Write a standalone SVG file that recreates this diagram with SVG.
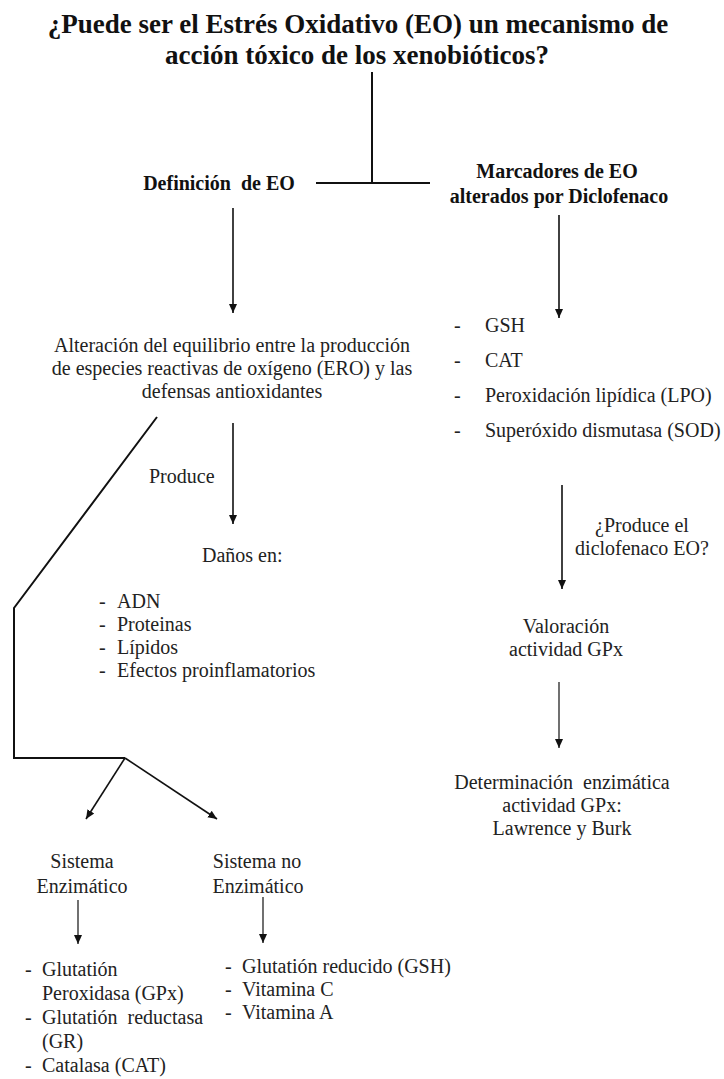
<svg xmlns="http://www.w3.org/2000/svg" width="724" height="1079" viewBox="0 0 724 1079">
<style>
.title{font-family:"Liberation Serif",serif;font-weight:bold;font-size:27px;fill:#111}
.h{font-family:"Liberation Serif",serif;font-weight:bold;font-size:20px;fill:#111}
.t{font-family:"Liberation Serif",serif;font-size:20px;fill:#222}
.c{text-anchor:middle}
.pre{white-space:pre}
.ln{stroke:#111;stroke-width:2;fill:none}
.ar{stroke:#111;stroke-width:1.6;fill:none;marker-end:url(#ah)}
</style>
<defs>
<marker id="ah" markerUnits="userSpaceOnUse" markerWidth="10" markerHeight="10" refX="9" refY="5" orient="auto">
<path d="M0,1 L9,5 L0,9 Z" fill="#111"/>
</marker>
</defs>
<rect width="724" height="1079" fill="#fff"/>
<g id="title">
<text class="title c" x="358" y="33">¿Puede ser el Estrés Oxidativo (EO) un mecanismo de</text>
<text class="title c" x="357" y="64">acción tóxico de los xenobióticos?</text>
</g>
<g id="definicion"><text class="h c pre" x="219" y="190">Definición  de EO</text></g>
<g id="marcadores">
<text class="h c" x="557" y="178">Marcadores de EO</text>
<text class="h c" x="559" y="203">alterados por Diclofenaco</text>
</g>
<g id="alteracion">
<text class="t c" x="232" y="352">Alteración del equilibrio entre la producción</text>
<text class="t c" x="232" y="375">de especies reactivas de oxígeno (ERO) y las</text>
<text class="t c" x="232" y="398">defensas antioxidantes</text>
</g>
<g id="marcadores-lista">
<text class="t" x="454" y="332">-</text><text class="t" x="485" y="332">GSH</text>
<text class="t" x="454" y="367">-</text><text class="t" x="485" y="367">CAT</text>
<text class="t" x="454" y="402">-</text><text class="t" x="485" y="402">Peroxidación lipídica (LPO)</text>
<text class="t" x="454" y="437">-</text><text class="t" x="485" y="437">Superóxido dismutasa (SOD)</text>
</g>
<g id="produce"><text class="t" x="149" y="483">Produce</text></g>
<g id="danos"><text class="t" x="202" y="562">Daños en:</text></g>
<g id="danos-lista">
<text class="t" x="99" y="608">-</text><text class="t" x="117" y="608">ADN</text>
<text class="t" x="99" y="631">-</text><text class="t" x="117" y="631">Proteinas</text>
<text class="t" x="99" y="654">-</text><text class="t" x="117" y="654">Lípidos</text>
<text class="t" x="99" y="677">-</text><text class="t" x="117" y="677">Efectos proinflamatorios</text>
</g>
<g id="pregunta">
<text class="t c" x="642" y="532">¿Produce el</text>
<text class="t c" x="642" y="555">diclofenaco EO?</text>
</g>
<g id="valoracion">
<text class="t c" x="566" y="633">Valoración</text>
<text class="t c" x="566" y="656">actividad GPx</text>
</g>
<g id="determinacion">
<text class="t c pre" x="562" y="789">Determinación  enzimática</text>
<text class="t c" x="562" y="812">actividad GPx:</text>
<text class="t c" x="562" y="835">Lawrence y Burk</text>
</g>
<g id="sistema-enzimatico">
<text class="t c" x="82" y="868">Sistema</text>
<text class="t c" x="82" y="893">Enzimático</text>
</g>
<g id="sistema-no-enzimatico">
<text class="t c" x="257" y="868">Sistema no</text>
<text class="t c" x="258" y="893">Enzimático</text>
</g>
<g id="enzimatico-lista">
<text class="t" x="25" y="976">-</text><text class="t" x="42" y="976">Glutatión</text>
<text class="t" x="42" y="1000">Peroxidasa (GPx)</text>
<text class="t" x="25" y="1024">-</text><text class="t pre" x="42" y="1024">Glutatión  reductasa</text>
<text class="t" x="42" y="1048">(GR)</text>
<text class="t" x="25" y="1072">-</text><text class="t" x="42" y="1072">Catalasa (CAT)</text>
</g>
<g id="no-enzimatico-lista">
<text class="t" x="225" y="973">-</text><text class="t" x="242" y="973">Glutatión reducido (GSH)</text>
<text class="t" x="225" y="996">-</text><text class="t" x="242" y="996">Vitamina C</text>
<text class="t" x="225" y="1019">-</text><text class="t" x="242" y="1019">Vitamina A</text>
</g>
<g id="connectors">
<path class="ln" d="M372,72 V183 M316,183 H430"/>
<path class="ar" d="M233,208 V313"/>
<path class="ar" d="M559,215 V318"/>
<path class="ar" d="M233,423 V524"/>
<path class="ln" d="M157,417 L14,608 V758 H125"/>
<path class="ar" d="M125,758 L86,819"/>
<path class="ar" d="M125,758 L217,819"/>
<path class="ar" d="M562,485 V589"/>
<path class="ar" style="stroke-width:1.2" d="M559,682 V748"/>
<path class="ar" style="stroke-width:1.2" d="M78,900 V944"/>
<path class="ar" style="stroke-width:1.2" d="M263,897 V943"/>
</g>
</svg>
